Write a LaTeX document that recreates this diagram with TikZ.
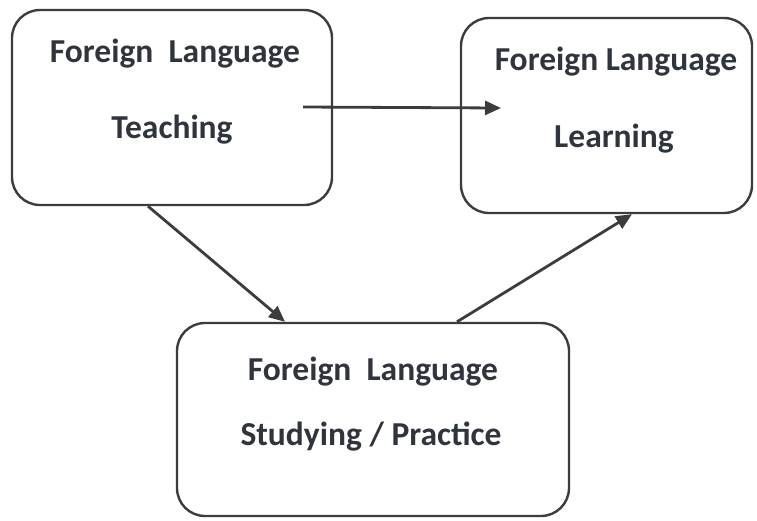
\documentclass[tikz,border=0pt]{standalone}
\usepackage{fontspec}
\setmainfont{Carlito}
\usetikzlibrary{arrows.meta}
\definecolor{ink}{HTML}{30353D}
\definecolor{edge}{HTML}{3C3C3C}
\tikzset{
  box/.style={draw=edge, line width=2.4pt, rounded corners=28pt, inner sep=0pt},
  lbl/.style={anchor=base, inner sep=0pt, text=ink, font=\fontsize{33.5}{38}\selectfont\bfseries},
  conn/.style={draw=edge, line width=2.8pt, -{Triangle[length=16pt,width=14pt,fill=edge]}}
}
\begin{document}
\begin{tikzpicture}[x=1pt,y=-1pt]
\useasboundingbox (0,0) rectangle (757,520);
% boxes
\node[box, minimum width=320pt, minimum height=195pt] (b1) at (172,107.5) {};
\node[box, minimum width=291pt, minimum height=195pt] (b2) at (606.5,115.5) {};
\node[box, minimum width=392pt, minimum height=193pt] (b3) at (373,419.5) {};
% texts
\node[lbl] (t1a) at (175,62) {Foreign\ \ Language};
\node[lbl] (t1b) at (172,138) {Teaching};
\node[lbl] (t2a) at (616,70) {Foreign Language};
\node[lbl] (t2b) at (614,147) {Learning};
\node[lbl] (t3a) at (373,380) {Foreign\ \ Language};
\node[lbl] (t3b) at (371,445) {Studying / Practice};
% connector ends
\coordinate (h1) at (303,107);
\coordinate (h2) at (501,108);
\coordinate (s1) at (b1.south -| 148,0);
\coordinate (e1) at (b3.north -| 285,0);
\coordinate (s2) at (b3.north -| 457,0);
\coordinate (e2) at (b2.south -| 632,0);
% connectors
\draw[conn] (h1) -- (h2);
\draw[conn] (s1) -- (e1);
\draw[conn] (s2) -- (e2);
\end{tikzpicture}
\end{document}
